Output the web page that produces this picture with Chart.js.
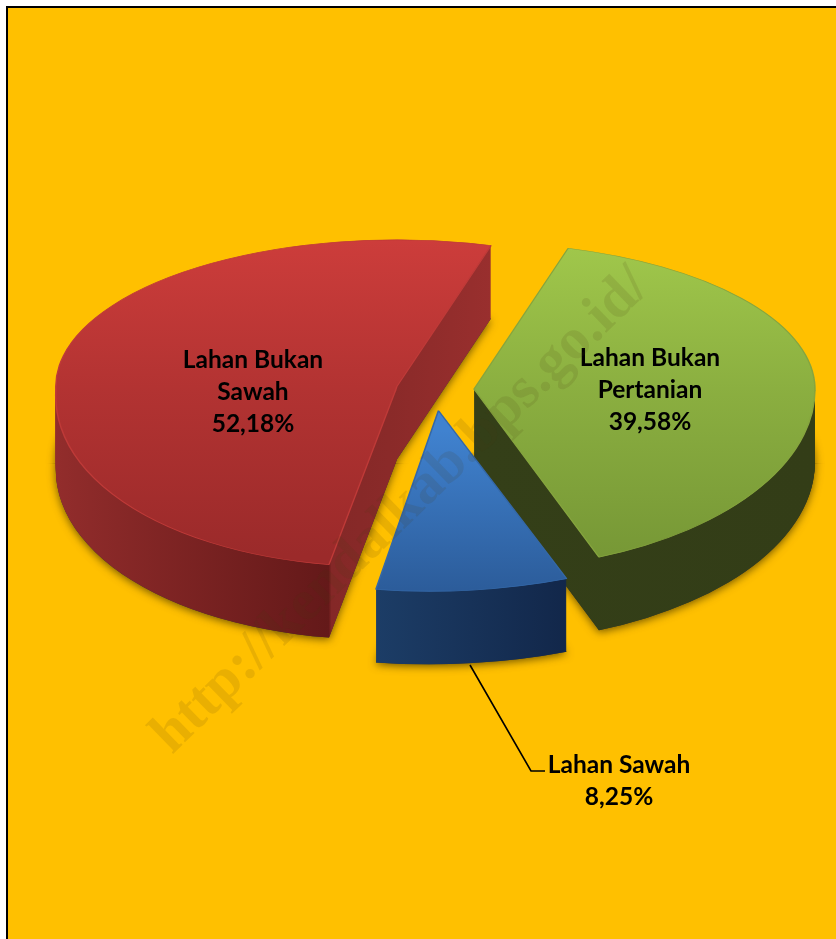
<!DOCTYPE html>
<html>
<head>
<meta charset="utf-8">
<style>
  html, body { margin: 0; padding: 0; background: #fff; overflow: hidden; }
  canvas { display: block; }
</style>
<script src="https://cdn.jsdelivr.net/npm/chart.js@4"></script>
</head>
<body>
<canvas id="pie" width="836" height="939"></canvas>
<script>
const categories = ['Lahan Sawah', 'Lahan Bukan Sawah', 'Lahan Bukan Pertanian'];
const shares = [8.25, 52.18, 39.58];
const shareLabels = ['8,25%', '52,18%', '39,58%'];

// look of the tilted pie
const topColors = [['#4082cf', '#295793'], ['#cd3d3b', '#9b2a2a'], ['#a0c74b', '#779836']];
const rimColors = ['#3468a8', '#bf3a38', '#86a53e'];
const topSpan = [[410, 592], [240, 560], [247, 556]];
// side gradients, x before the slice is moved out
const sideStops = [
  [[370, '#1d3f69'], [560, '#12274a']],
  [[93, '#932d2c'], [386, '#641919'], [388, '#842827'], [530, '#992f2e']],
  [[435, '#343f18'], [776, '#333d17']]
];
const drawOrder = [1, 2, 0];
const explode = 39, depth = 73, tiltTop = 0.43, tiltBottom = 0.53;
// front of the pie spreads wider: x stretch and lean per slice
const frontStretch = [1.095, 1, 1];
const frontLean = [-0.052, -0.11, 0];

const labelLines = [['Lahan Sawah'], ['Lahan Bukan', 'Sawah'], ['Lahan Bukan', 'Pertanian']];
const labelSpots = [[619, 765], [253, 360], [650, 358]];
const labelGap = 32;
const leader = [[470, 665], [531, 771], [545, 771]];

const pie3d = {
  id: 'pie3d',
  beforeDraw(chart) {
    const c = chart.ctx;
    c.save();
    c.fillStyle = '#fff';
    c.fillRect(0, 0, 836, 939);
    c.fillStyle = '#ffc000';
    c.fillRect(7, 7, 829, 932);
    c.fillStyle = '#000';
    c.fillRect(6, 6, 830, 2);
    c.fillRect(6, 6, 2, 933);
    c.restore();
  },
  beforeDatasetsDraw(chart) {
    const c = chart.ctx;
    const arcs = chart.getDatasetMeta(0).data;
    const cy = arcs[0].y;
    const toPlain = y => cy + (y - cy) / (y < cy ? tiltTop : tiltBottom);

    // one arc through the two half tilts, shifted down by dy
    const tilted = (arc, i, dy, opts) => {
      const mid = (arc.startAngle + arc.endAngle) / 2;
      const moveX = Math.cos(mid) * explode;
      const saved = arc.options;
      arc.options = Object.assign({}, saved, opts);
      [[tiltTop, -2000, cy + dy + 0.5, 1, 0], [tiltBottom, cy + dy, 2000, frontStretch[i], frontLean[i]]].forEach(([s, y0, y1, k, lean]) => {
        c.save();
        c.beginPath();
        c.rect(0, y0, 836, y1 - y0);
        c.clip();
        c.translate(arc.x + moveX, cy + dy);
        c.transform(k, 0, lean, 1, 0, 0);
        c.scale(1, s);
        c.translate(-arc.x, -cy + Math.sin(mid) * explode);
        arc.draw(c);
        c.restore();
      });
      arc.options = saved;
    };

    const sideFill = i => {
      const g = c.createLinearGradient(0, 0, 836, 0);
      sideStops[i].forEach(([x, col]) => g.addColorStop(x / 836, col));
      return g;
    };
    const topFill = i => {
      const g = c.createLinearGradient(0, toPlain(topSpan[i][0]), 0, toPlain(topSpan[i][1]));
      g.addColorStop(0, topColors[i][0]);
      g.addColorStop(1, topColors[i][1]);
      return g;
    };

    // soft shadow on the background first
    c.save();
    c.shadowColor = 'rgba(80,60,0,0.8)';
    c.shadowBlur = 8;
    c.shadowOffsetY = 2;
    drawOrder.forEach(i => tilted(arcs[i], i, depth, { backgroundColor: '#333', borderWidth: 0 }));
    c.restore();

    drawOrder.forEach(i => {
      const side = sideFill(i);
      for (let d = depth; d > 0; d--) {
        tilted(arcs[i], i, d, { backgroundColor: side, borderWidth: 0 });
      }
      tilted(arcs[i], i, 0, { backgroundColor: topFill(i), borderColor: rimColors[i], borderWidth: 1.5 });
    });
    return false;
  },
  afterDraw(chart) {
    const c = chart.ctx;
    c.save();

    // leader line of the outside label
    c.strokeStyle = '#000';
    c.lineWidth = 1.6;
    c.beginPath();
    leader.forEach(([x, y], i) => (i ? c.lineTo(x, y) : c.moveTo(x, y)));
    c.stroke();

    c.fillStyle = '#000';
    c.font = 'bold 24.5px Lato';
    c.textAlign = 'center';
    c.textBaseline = 'middle';
    categories.forEach((name, i) => {
      const lines = labelLines[i].concat(shareLabels[i]);
      lines.forEach((t, n) => c.fillText(t, labelSpots[i][0], labelSpots[i][1] + n * labelGap));
    });

    // watermark
    c.translate(172, 755);
    c.rotate(-44.2 * Math.PI / 180);
    c.font = 'bold 58px "Liberation Serif"';
    c.textAlign = 'left';
    c.textBaseline = 'alphabetic';
    c.fillStyle = 'rgba(70,60,20,0.12)';
    c.fillText('http://kendalkab.bps.go.id/', 0, 0);
    c.restore();
  }
};

new Chart(document.getElementById('pie'), {
  type: 'pie',
  data: {
    labels: categories,
    datasets: [{ data: shares, backgroundColor: rimColors, borderWidth: 0 }]
  },
  options: {
    responsive: false,
    animation: false,
    rotation: 158.5,
    layout: { padding: { left: 94, right: 60, top: 48, bottom: 207 } },
    plugins: { legend: { display: false }, tooltip: { enabled: false } },
    events: []
  },
  plugins: [pie3d]
});
</script>
</body>
</html>
